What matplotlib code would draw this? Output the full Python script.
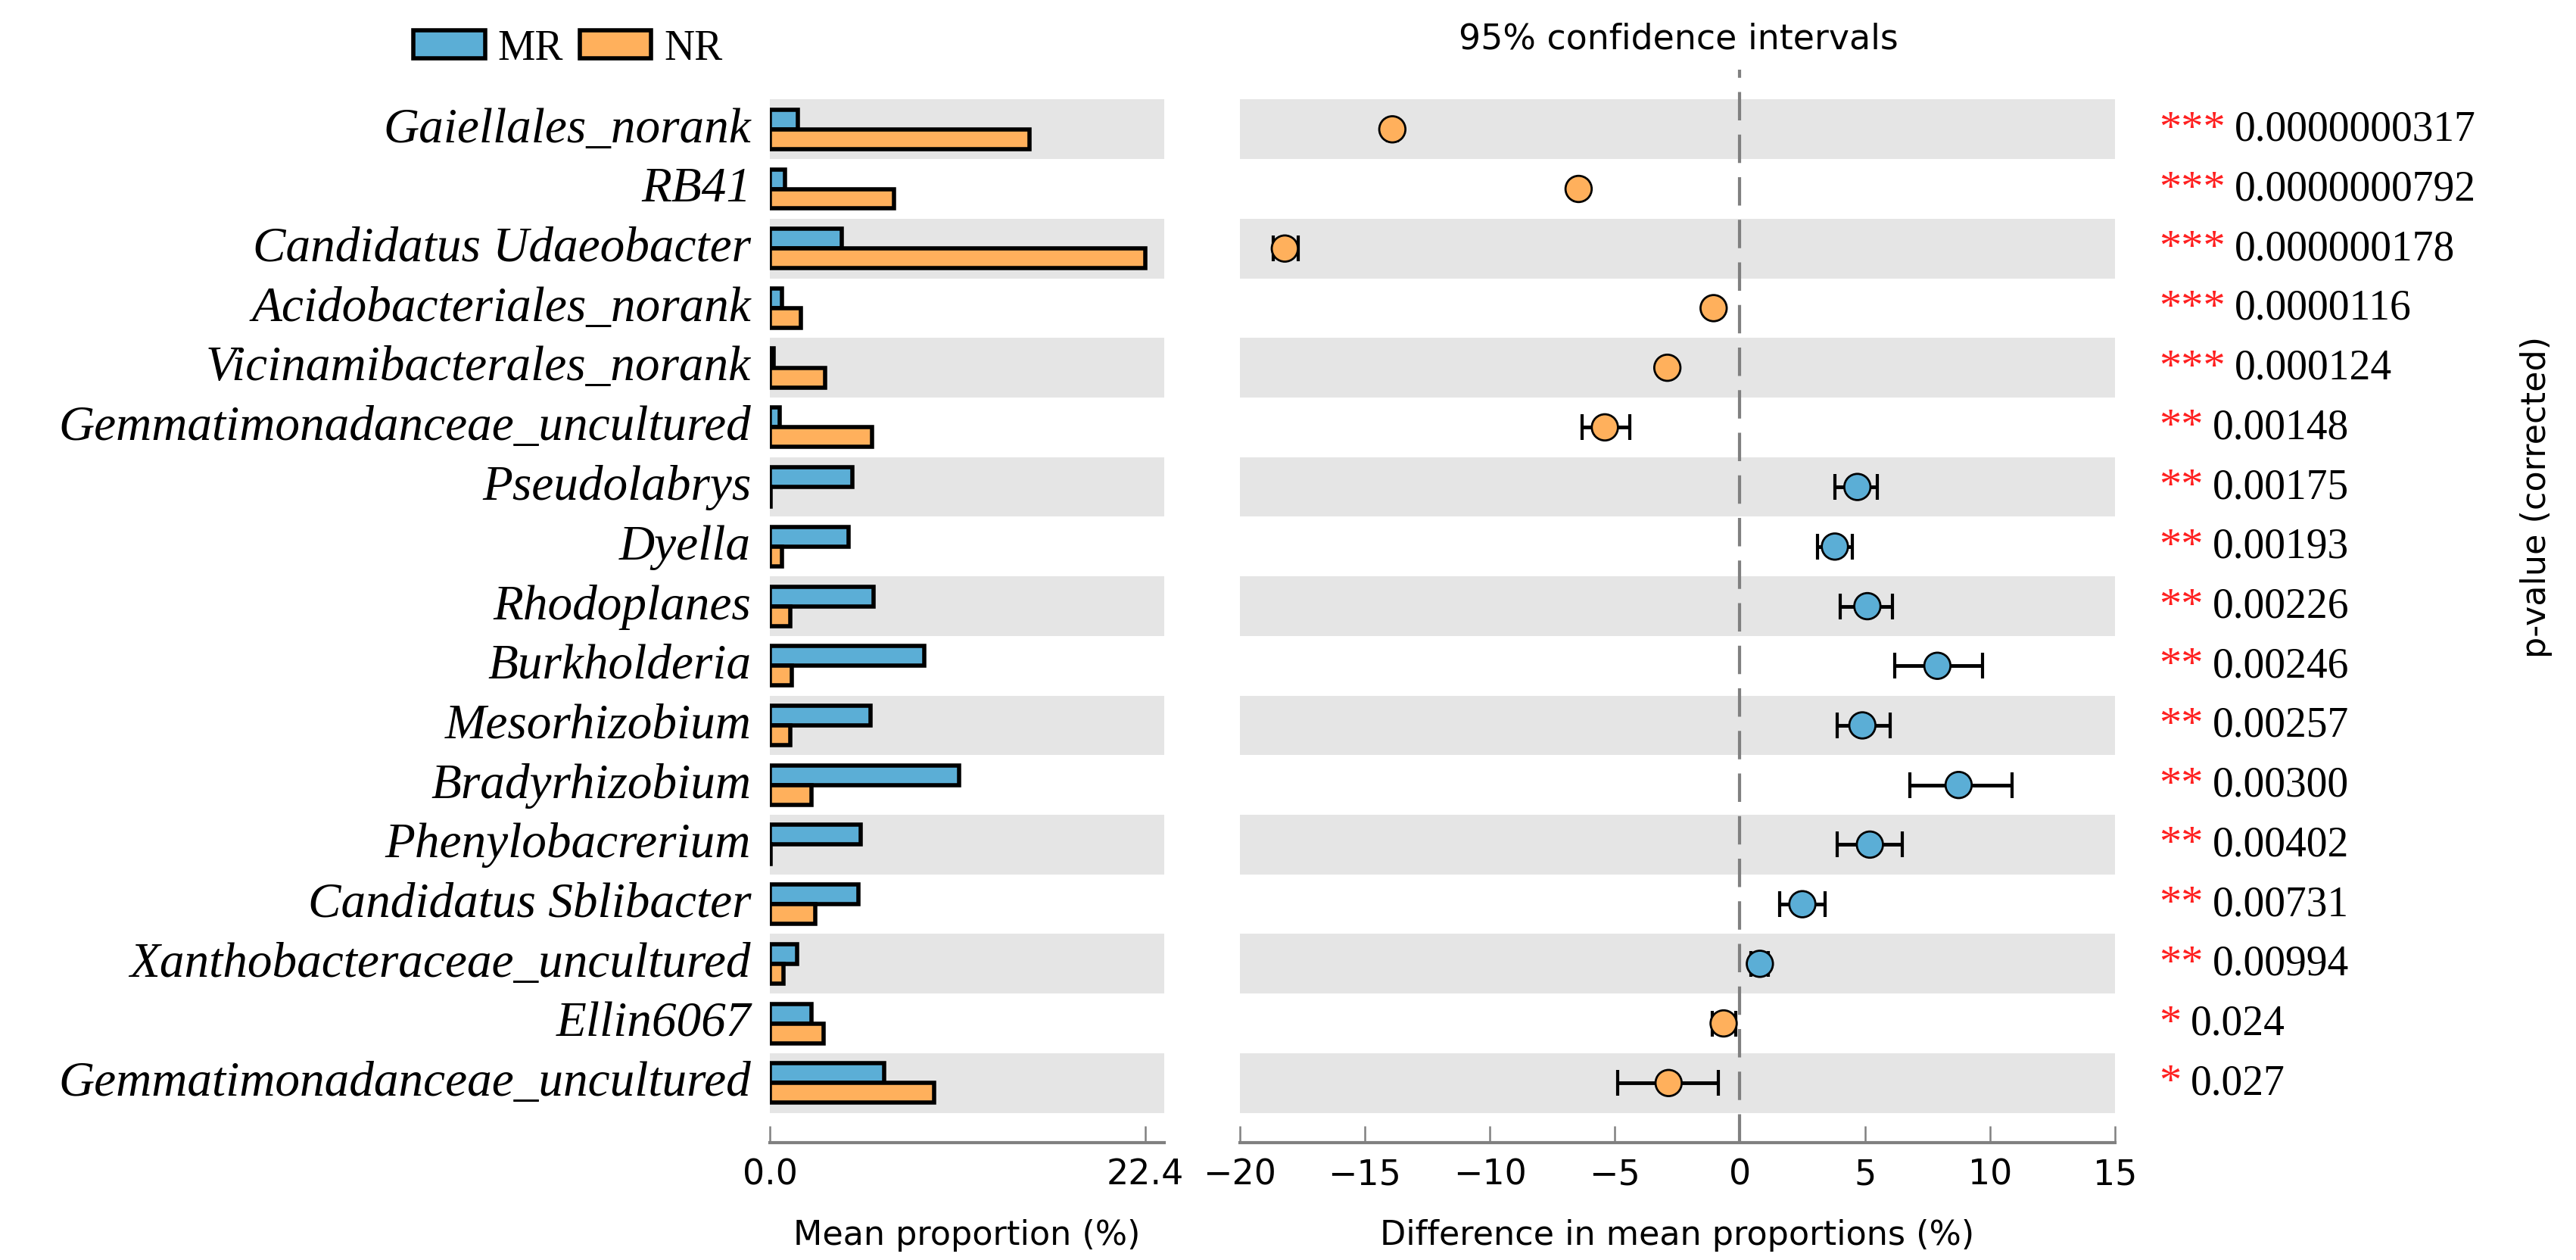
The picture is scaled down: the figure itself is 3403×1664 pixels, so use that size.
import matplotlib
matplotlib.use('Agg')
import matplotlib.pyplot as plt
from matplotlib.patches import Patch
from matplotlib import transforms
import numpy as np

TAXA = ['Gaiellales_norank', 'RB41', 'Candidatus Udaeobacter',
        'Acidobacteriales_norank', 'Vicinamibacterales_norank',
        'Gemmatimonadanceae_uncultured', 'Pseudolabrys', 'Dyella',
        'Rhodoplanes', 'Burkholderia', 'Mesorhizobium', 'Bradyrhizobium',
        'Phenylobacrerium', 'Candidatus Sblibacter',
        'Xanthobacteraceae_uncultured', 'Ellin6067',
        'Gemmatimonadanceae_uncultured']

MR_MEAN = [1.65, 0.9, 4.3, 0.7, 0.2, 0.6, 4.9, 4.7, 6.2, 9.2, 6.0, 11.3,
           5.4, 5.3, 1.6, 2.5, 6.8]
NR_MEAN = [15.5, 7.4, 22.4, 1.85, 3.3, 6.1, 0.05, 0.7, 1.2, 1.3, 1.2, 2.5,
           0.05, 2.7, 0.8, 3.2, 9.8]

DIFF = [-13.9, -6.45, -18.2, -1.05, -2.9, -5.4, 4.7, 3.8, 5.1, 7.9, 4.9,
        8.75, 5.2, 2.5, 0.8, -0.65, -2.85]
CI_LOW = [-14.1, -6.6, -18.65, -1.2, -3.05, -6.3, 3.8, 3.1, 4.0, 6.2, 3.9,
          6.8, 3.9, 1.6, 0.45, -1.1, -4.9]
CI_HIGH = [-13.7, -6.3, -17.65, -0.9, -2.75, -4.4, 5.5, 4.5, 6.1, 9.7, 6.0,
           10.9, 6.5, 3.4, 1.15, -0.15, -0.85]

P_VALUES = ['0.0000000317', '0.0000000792', '0.000000178', '0.0000116',
            '0.000124', '0.00148', '0.00175', '0.00193', '0.00226',
            '0.00246', '0.00257', '0.00300', '0.00402', '0.00731',
            '0.00994', '0.024', '0.027']
STARS = ['***', '***', '***', '***', '***', '**', '**', '**', '**', '**',
         '**', '**', '**', '**', '**', '*', '*']

BLUE = '#5BAED6'
ORANGE = '#FFB05C'
BAND = '#E5E5E5'
GRAY = '#808080'
SERIF = 'Liberation Serif'

n = len(TAXA)
ys = np.arange(n)

fig = plt.figure(figsize=(34.03, 16.65), dpi=100)
ax_bar = fig.add_axes([0.2989, 0.0931, 0.1531, 0.8510])
ax_ci = fig.add_axes([0.4813, 0.0931, 0.3397, 0.8510])


def setup_axis(ax):
    for i in range(0, n, 2):
        ax.axhspan(i - 0.5, i + 0.5, color=BAND, lw=0, zorder=0)
    ax.set_ylim(n, -1)
    for side in ['top', 'right', 'left']:
        ax.spines[side].set_visible(False)
    ax.spines['bottom'].set_color(GRAY)
    ax.spines['bottom'].set_linewidth(3)
    ax.tick_params(axis='x', direction='in', length=16, width=1.8,
                   color=GRAY, labelsize=33, pad=14)


setup_axis(ax_bar)
setup_axis(ax_ci)

# mean proportions
ax_bar.barh(ys - 0.165, MR_MEAN, height=0.33, color=BLUE, edgecolor='black',
            linewidth=4, zorder=2)
ax_bar.barh(ys + 0.165, NR_MEAN, height=0.33, color=ORANGE, edgecolor='black',
            linewidth=4, zorder=2)
ax_bar.set_xlim(0, 23.55)
ax_bar.set_xticks([0, 22.4])
ax_bar.set_xticklabels(['0.0', '22.4'])
ax_bar.set_yticks(ys)
ax_bar.set_yticklabels(TAXA, family=SERIF, style='italic', fontsize=47,
                       va='center')
ax_bar.tick_params(axis='y', length=0, pad=18)
ax_bar.set_xlabel('Mean proportion (%)', fontsize=32)
ax_bar.xaxis.set_label_coords(0.5, -0.0706)

# differences with confidence intervals
ax_ci.axvline(0, color=GRAY, lw=3, dashes=(9, 4.5), zorder=1)
diff = np.array(DIFF)
xerr = [diff - np.array(CI_LOW), np.array(CI_HIGH) - diff]
ax_ci.errorbar(diff, ys, xerr=xerr, fmt='none', ecolor='black',
               elinewidth=3.5, capsize=12, capthick=3, zorder=3)
colors = [BLUE if d > 0 else ORANGE for d in DIFF]
ax_ci.scatter(diff, ys, s=620, c=colors, edgecolors='black', linewidths=2,
              zorder=4)
ax_ci.set_xlim(-20, 15)
ax_ci.set_xticks(range(-20, 16, 5))
ax_ci.set_yticks([])
ax_ci.set_xlabel('Difference in mean proportions (%)', fontsize=32)
ax_ci.xaxis.set_label_coords(0.5, -0.0706)

# p-values
trans = transforms.blended_transform_factory(fig.transFigure, ax_ci.transData)
for i in range(n):
    st = ax_ci.text(0.838, ys[i], STARS[i], transform=trans, color='#FF2020',
                    family=SERIF, fontsize=42, ha='left', va='center')
    ax_ci.annotate(P_VALUES[i], xy=(1, 0.5), xycoords=st, xytext=(9, 0),
                   textcoords='offset points', family=SERIF, fontsize=40,
                   ha='left', va='center')

fig.text(0.6515, 0.961, '95% confidence intervals', ha='center',
         va='baseline', fontsize=33)
fig.text(0.9845, 0.606, 'p-value (corrected)', rotation=90, ha='center',
         va='center', fontsize=32)

handles = [Patch(facecolor=BLUE, edgecolor='black', linewidth=4, label='MR'),
           Patch(facecolor=ORANGE, edgecolor='black', linewidth=4, label='NR')]
fig.legend(handles=handles, loc='center left', bbox_to_anchor=(0.1605, 0.961),
           ncol=2, frameon=False, prop={'family': SERIF, 'size': 40},
           handlelength=1.7, handleheight=0.65, handletextpad=0.3,
           columnspacing=0.4, borderpad=0, borderaxespad=0)

fig.savefig('out.png', dpi=100)
